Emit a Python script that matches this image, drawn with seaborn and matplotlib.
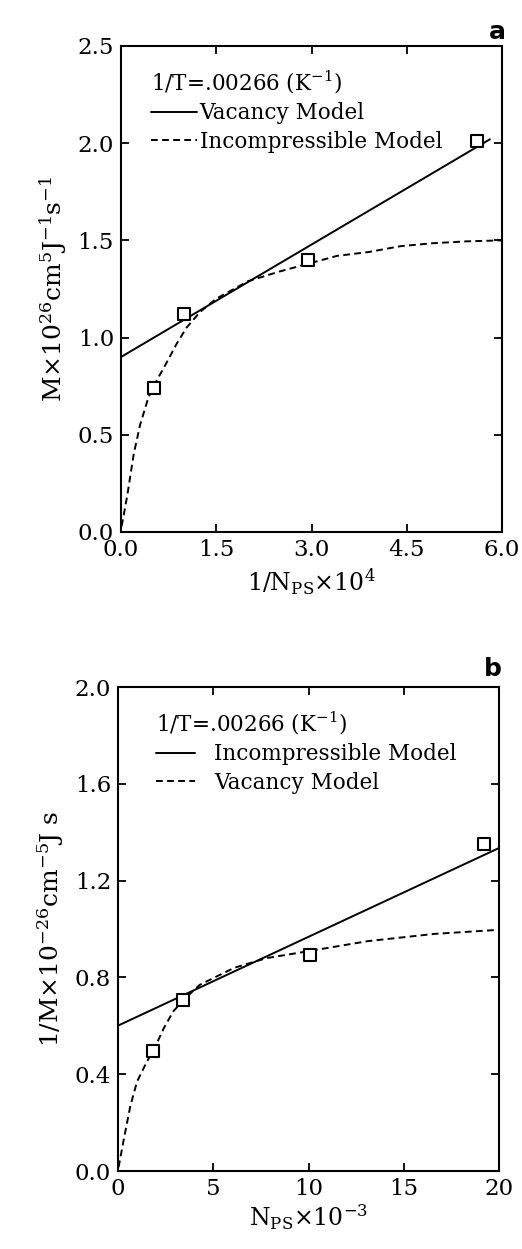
import matplotlib
matplotlib.use("Agg")
import matplotlib.pyplot as plt
import seaborn as sns
from matplotlib.lines import Line2D

# ---------------- data ----------------
# Panel a: M vs 1/N_PS
a_pts_x = [0.52, 0.99, 2.95, 5.61]
a_pts_y = [0.74, 1.12, 1.40, 2.01]
a_vac_x = [0.0, 5.81]
a_vac_y = [0.90, 2.02]
a_inc_x = [0.01, 0.05, 0.10, 0.20, 0.30, 0.43, 0.53, 0.70, 0.88, 1.03, 1.24,
           1.50, 2.00, 2.50, 2.95, 3.40, 3.90, 4.40, 4.90, 5.45, 6.00]
a_inc_y = [0.03, 0.10, 0.19, 0.40, 0.55, 0.69, 0.76, 0.86, 0.97, 1.05, 1.13,
           1.20, 1.29, 1.34, 1.38, 1.42, 1.44, 1.47, 1.485, 1.495, 1.50]
a_xticks = [0.0, 1.5, 3.0, 4.5, 6.0]
a_yticks = [0.0, 0.5, 1.0, 1.5, 2.0, 2.5]

# Panel b: 1/M vs N_PS
b_pts_x = [1.84, 3.41, 10.1, 19.2]
b_pts_y = [0.497, 0.708, 0.894, 1.35]
b_inc_x = [0.0, 20.0]
b_inc_y = [0.601, 1.335]
b_vac_x = [0.03, 0.30, 0.65, 1.00, 1.50, 1.87, 2.40, 2.90, 3.60, 4.30, 6.10,
           7.80, 10.1, 13.1, 16.6, 20.0]
b_vac_y = [0.016, 0.13, 0.27, 0.37, 0.45, 0.50, 0.59, 0.66, 0.72, 0.77, 0.84,
           0.88, 0.91, 0.95, 0.98, 0.997]
b_xticks = [0, 5, 10, 15, 20]
b_yticks = [0.0, 0.4, 0.8, 1.2, 1.6, 2.0]

legend_title = r"1/T=.00266 (K$^{-1}$)"

# ---------------- style ----------------
sns.set_theme(style="ticks")
plt.rcParams["font.family"] = ["DejaVu Serif"]
plt.rcParams["mathtext.fontset"] = "dejavuserif"
plt.rcParams["axes.linewidth"] = 1.5
for k in ("text.color", "axes.labelcolor", "axes.edgecolor",
          "xtick.color", "ytick.color", "xtick.labelcolor",
          "ytick.labelcolor", "legend.labelcolor"):
    plt.rcParams[k] = "black"
for ax_ in ("x", "y"):
    plt.rcParams[f"{ax_}tick.direction"] = "in"
    plt.rcParams[f"{ax_}tick.major.size"] = 6
    plt.rcParams[f"{ax_}tick.major.width"] = 1.3
plt.rcParams["xtick.top"] = True
plt.rcParams["ytick.right"] = True

fig = plt.figure(figsize=(5.22, 12.49), dpi=100)
ax1 = fig.add_axes([0.2318, 0.5741, 0.7299, 0.3891])
ax2 = fig.add_axes([0.2261, 0.0624, 0.7299, 0.3875])

lw = 1.4
dash = (3.5, 2.2)
TFS = 16.5   # tick labels
LFS = 17     # axis labels
GFS = 15.5   # legend


def draw(ax, solid_x, solid_y, dash_x, dash_y, px, py):
    sns.lineplot(x=solid_x, y=solid_y, ax=ax, color="black", lw=lw,
                 estimator=None, sort=False)
    sns.lineplot(x=dash_x, y=dash_y, ax=ax, color="black", lw=lw,
                 estimator=None, sort=False)
    ax.lines[-1].set_dashes(dash)
    sns.scatterplot(x=px, y=py, ax=ax, marker="s", s=65,
                    facecolor="white", edgecolor="black", linewidth=1.5,
                    zorder=5)


# Panel a
draw(ax1, a_vac_x, a_vac_y, a_inc_x, a_inc_y, a_pts_x, a_pts_y)
ax1.set_xlim(0, 6)
ax1.set_ylim(0, 2.5)
ax1.set_xticks(a_xticks)
ax1.set_xticklabels([f"{v:.1f}" for v in a_xticks])
ax1.set_yticks(a_yticks)
ax1.set_yticklabels([f"{v:.1f}" for v in a_yticks])
ax1.set_xlabel(r"1/N$_{\rm PS}$$\times$10$^4$", fontsize=LFS, labelpad=4)
ax1.set_ylabel(r"M$\times$10$^{26}$cm$^5$J$^{-1}$s$^{-1}$", fontsize=LFS + 1,
               labelpad=6)
h_a = [Line2D([], [], color="black", lw=lw),
       Line2D([], [], color="black", lw=lw, dashes=dash)]
leg1 = ax1.legend(h_a, ["Vacancy Model", "Incompressible Model"],
                  title=legend_title, loc="upper left", frameon=False,
                  fontsize=GFS, title_fontsize=GFS, handlelength=2.1,
                  handletextpad=0.15, borderaxespad=0.3, labelspacing=0.3,
                  bbox_to_anchor=(0.04, 0.985))
leg1._legend_box.align = "left"
fig.text(0.952, 0.974, "a", fontsize=18, fontweight="bold",
         family="DejaVu Sans", ha="center", va="center")

# Panel b
draw(ax2, b_inc_x, b_inc_y, b_vac_x, b_vac_y, b_pts_x, b_pts_y)
ax2.set_xlim(0, 20)
ax2.set_ylim(0, 2.0)
ax2.set_xticks(b_xticks)
ax2.set_xticklabels([str(v) for v in b_xticks])
ax2.set_yticks(b_yticks)
ax2.set_yticklabels([f"{v:.1f}" for v in b_yticks])
ax2.set_xlabel(r"N$_{\rm PS}$$\times$10$^{-3}$", fontsize=LFS, labelpad=2)
ax2.set_ylabel(r"1/M$\times$10$^{-26}$cm$^{-5}$J s", fontsize=LFS + 1,
               labelpad=6)
h_b = [Line2D([], [], color="black", lw=lw),
       Line2D([], [], color="black", lw=lw, dashes=dash)]
leg2 = ax2.legend(h_b, ["Incompressible Model", "Vacancy Model"],
                  title=legend_title, loc="upper left", frameon=False,
                  fontsize=GFS, title_fontsize=GFS, handlelength=1.8,
                  handletextpad=0.9, borderaxespad=0.3, labelspacing=0.3,
                  bbox_to_anchor=(0.06, 0.985))
leg2._legend_box.align = "left"
fig.text(0.945, 0.464, "b", fontsize=18, fontweight="bold",
         family="DejaVu Sans", ha="center", va="center")

for ax in (ax1, ax2):
    ax.tick_params(labelsize=TFS, pad=5, colors="black")
    for s in ax.spines.values():
        s.set_visible(True)
        s.set_color("black")

fig.savefig("out.png", dpi=100)
